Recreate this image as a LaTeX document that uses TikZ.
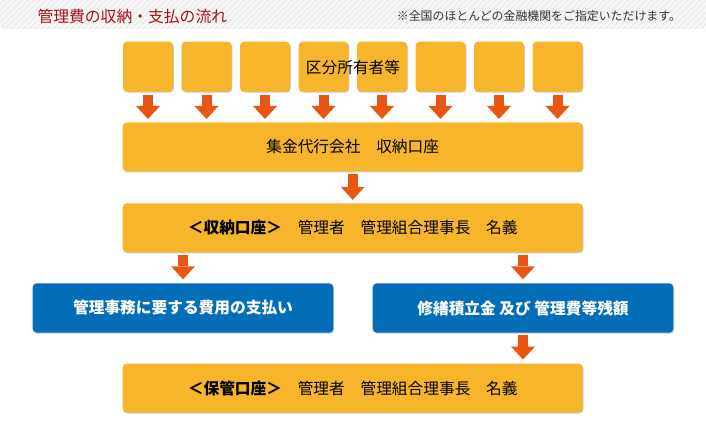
\documentclass[tikz,border=0pt]{standalone}
\usepackage{fontspec}
\setmainfont{Noto Sans CJK JP}
\usetikzlibrary{arrows.meta,shadows}

\definecolor{boxorange}{HTML}{F7B52C}
\definecolor{arroworange}{HTML}{E95513}
\definecolor{boxblue}{HTML}{036EB8}
\definecolor{titlered}{HTML}{A5121A}
\definecolor{bandgray}{HTML}{EEEEEE}

\tikzset{
  softshadow/.style={drop shadow={shadow xshift=0.8pt,shadow yshift=-1pt,opacity=0.2,fill=black}},
  owner/.style={fill=boxorange,rounded corners=4pt,minimum width=50pt,minimum height=50pt,inner sep=0pt,outer sep=0pt,softshadow},
  acct/.style={fill=boxorange,rounded corners=4pt,minimum width=460pt,minimum height=49pt,inner sep=0pt,outer sep=0pt,font=\fontsize{15.7}{18}\selectfont,softshadow},
  paybox/.style={fill=boxblue,text=white,rounded corners=4pt,minimum width=300.6pt,minimum height=49.4pt,inner sep=0pt,outer sep=0pt,font=\fontsize{15.7}{18}\selectfont\bfseries,softshadow},
  flow/.style={draw=arroworange,line width=10pt,-{Triangle[width=24pt,length=13pt,line width=0pt]},shorten <=3pt,shorten >=3.5pt}
}

\begin{document}
\begin{tikzpicture}[x=1pt,y=-1pt]
\useasboundingbox (0,0) rectangle (706,422);

% header band
\begin{scope}
\clip[rounded corners=5pt] (0,-10) rectangle (706,29.3);
\fill[bandgray] (0,-10) rectangle (706,29.3);
\foreach \k in {-40,-34,...,740}
  \draw[white,line width=1.6pt,opacity=0.7] (\k,29.3) -- (\k+29.3,0);
\end{scope}
\node[anchor=west,inner sep=0pt,text=titlered,font=\fontsize{15.8}{18}\selectfont] (title) at (37.3,16.5) {管理費の収納・支払の流れ};
\node[anchor=west,inner sep=0pt,text=black!80,font=\fontsize{11.9}{14}\selectfont] (note) at (396.7,16) {※全国のほとんどの金融機関をご指定いただけます。};

% owners
\foreach \i in {1,...,8}
  \node[owner] (u\i) at ({148+58.5*(\i-1)},66.7) {};
\node[inner sep=0pt,font=\fontsize{15.7}{18}\selectfont] (ownlbl) at (353,68) {区分所有者等};

% accounts
\node[acct] (coll) at (352.7,147) {集金代行会社　収納口座};
\node[acct] (recv) at (352.7,227.8) {{\bfseries ＜収納口座＞}　管理者　管理組合理事長　名義};
\node[paybox] (pay) at (183,308) {管理事務に要する費用の支払い};
\node[paybox] (rsv) at (523,308) {修繕積立金 及び 管理費等残額};
\node[acct] (keep) at (352.7,388) {{\bfseries ＜保管口座＞}　管理者　管理組合理事長　名義};

% flows
\foreach \i in {1,...,8}
  \draw[flow] (u\i.south) -- (u\i.south |- coll.north);
\draw[flow] (coll) -- (recv);
\draw[flow,shorten <=2.5pt,shorten >=4pt] (recv.south -| pay.north) -- (pay.north);
\draw[flow,shorten <=2.5pt,shorten >=4pt] (recv.south -| rsv.north) -- (rsv.north);
\draw[flow,shorten <=2.5pt,shorten >=4pt] (rsv.south) -- (rsv.south |- keep.north);

\end{tikzpicture}
\end{document}
